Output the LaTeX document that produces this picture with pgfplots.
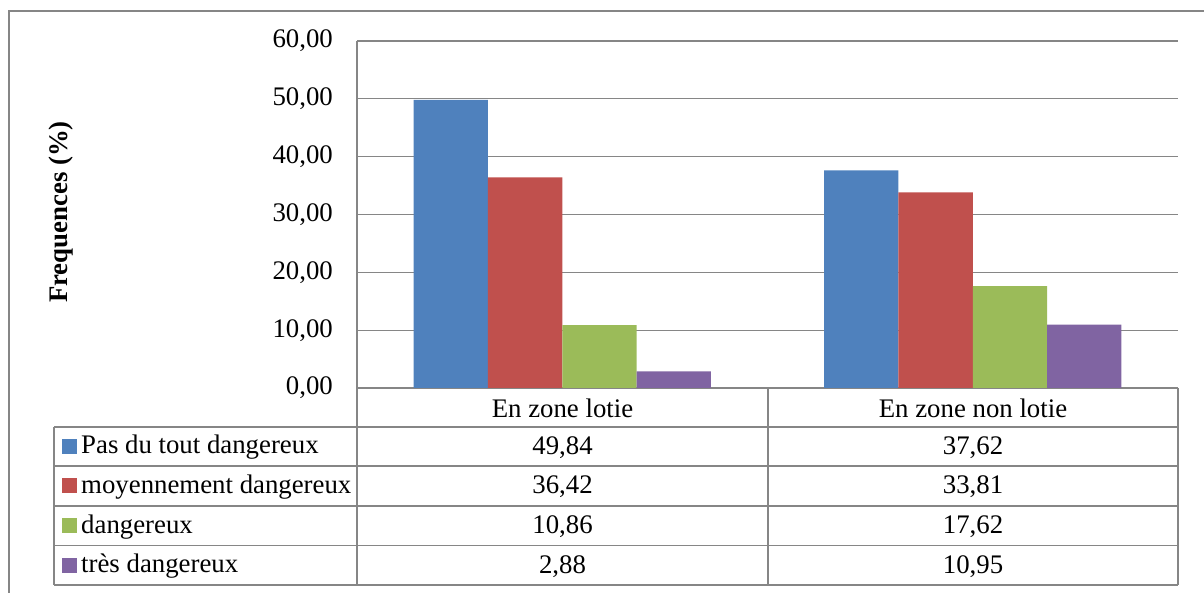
\documentclass[border=0pt]{standalone}
\usepackage{fontspec}
\setmainfont{Liberation Serif}
\usepackage{pgfplots}
\pgfplotsset{compat=1.18}

\definecolor{sblue}{RGB}{79,129,189}
\definecolor{sred}{RGB}{192,80,77}
\definecolor{sgreen}{RGB}{155,187,89}
\definecolor{spurple}{RGB}{128,100,162}
\definecolor{gridgray}{RGB}{134,134,134}
\newcommand{\chartfont}{\fontsize{26.8}{31}\selectfont}

\begin{document}
\begin{tikzpicture}[x=1pt,y=1pt]
\useasboundingbox (0,0) rectangle (1204,593);

% outer chart frame (cut off at right and bottom)
\draw[gridgray, line width=1.2pt] (9,-10) -- (9,582) -- (1220,582);

\begin{axis}[
    at={(357pt,205pt)}, anchor=south west,
    scale only axis, width=821pt, height=347pt,
    ymin=0, ymax=60, ytick={0,10,...,60},
    xmin=-0.5, xmax=1.5, xtick=\empty,
    ybar=0pt, bar width=74.3pt,
    axis lines=left,
    axis line style={-, gridgray, line width=1.3pt},
    major tick length=0pt,
    ymajorgrids,
    grid style={gridgray, line width=1.3pt},
    yticklabel style={font=\chartfont, inner sep=0pt, xshift=-24pt},
    yticklabel={\pgfmathprintnumber[fixed,fixed zerofill,precision=2,use comma,assume math mode=true]{\tick}},
]
\addplot[fill=sblue, draw=none] coordinates {(0,49.84) (1,37.62)};
\addplot[fill=sred, draw=none] coordinates {(0,36.42) (1,33.81)};
\addplot[fill=sgreen, draw=none] coordinates {(0,10.86) (1,17.62)};
\addplot[fill=spurple, draw=none] coordinates {(0,2.88) (1,10.95)};
\end{axis}

% y label
\node[rotate=90, font=\chartfont\bfseries] at (61,381) {Frequences (\%)};

% data table
\begin{scope}[gridgray, line width=1.3pt]
\draw (357,205) -- (357,8);
\draw (768,205) -- (768,8);
\draw (1178,205) -- (1178,8);
\draw (54,166) -- (54,8);
\foreach \yy in {166,127,87,47.5,8} \draw (54,\yy) -- (1178,\yy);
\end{scope}

\begin{scope}[font=\chartfont]
\node at (562.5,184.5) {En zone lotie};
\node at (973,184.5) {En zone non lotie};
\foreach \yy/\col/\lab/\va/\vb in {
    146.5/sblue/{Pas du tout dangereux}/{49,84}/{37,62},
    107/sred/{moyennement dangereux}/{36,42}/{33,81},
    67.25/sgreen/{dangereux}/{10,86}/{17,62},
    27.75/spurple/{très dangereux}/{2,88}/{10,95}}{
  \fill[\col] (62,\yy-7.5) rectangle (77,\yy+7.5);
  \node[anchor=west, inner sep=0pt] at (81,\yy-1) {\lab};
  \node at (562.5,\yy-1) {\va};
  \node at (973,\yy-1) {\vb};
}
\end{scope}
\end{tikzpicture}
\end{document}
